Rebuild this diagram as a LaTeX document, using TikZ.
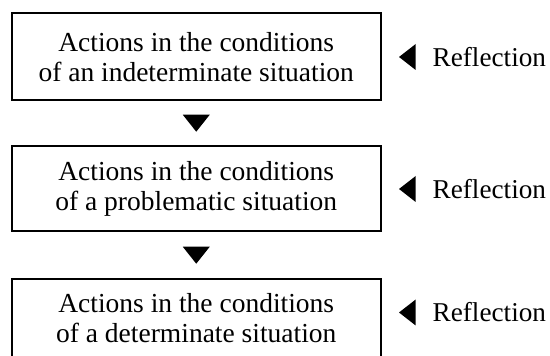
\documentclass[tikz,border=0pt]{standalone}
\usepackage{fontspec}
\setmainfont{Liberation Serif}
\usetikzlibrary{calc}
\begin{document}
\begin{tikzpicture}[x=1pt,y=1pt,
  box/.style={draw=black,line width=2pt,minimum width=369.5pt,inner sep=0pt,align=center,
              font=\fontsize{27.5}{30}\selectfont},
  txt/.style={inner sep=0pt,align=center,font=\fontsize{27.5}{30}\selectfont},
  refl/.style={inner sep=0pt,anchor=west,font=\fontsize{27.2}{30}\selectfont}]
\useasboundingbox (0,0) rectangle (550,356);
\clip (0,0) rectangle (550,356);
% boxes
\node[box,minimum height=87pt] (b1) at (196.25,299) {Actions in the conditions\\of an indeterminate situation};
\node[box,minimum height=85.5pt] (b2) at (196.25,167.3) {Actions in the conditions\\of a problematic situation};
\node[draw=black,line width=2pt,minimum width=369.5pt,minimum height=86pt,inner sep=0pt] (b3) at (196.25,34) {};
\node[txt] (t3) at (196.25,38) {Actions in the conditions\\of a determinate situation};
% down triangles between boxes
\coordinate (d1) at ($(b1.south)!0.5!(b2.north)$);
\coordinate (d2) at ($(b2.south)!0.5!(b3.north)$);
\foreach \d in {d1,d2}{
  \fill ([xshift=-13.5pt,yshift=8.5pt]\d) -- ([xshift=13.5pt,yshift=8.5pt]\d) -- ([yshift=-8.5pt]\d) -- cycle;
}
% reflections
\node[refl] (r1) at (432.5,299) {Reflection};
\node[refl] (r2) at (432.5,167) {Reflection};
\node[refl] (r3) at (432.5,43.5) {Reflection};
\foreach \r in {r1,r2,r3}{
  \fill ([xshift=-33.5pt]\r.west) -- ([xshift=-16.8pt,yshift=13pt]\r.west) -- ([xshift=-16.8pt,yshift=-13pt]\r.west) -- cycle;
}
\end{tikzpicture}
\end{document}
